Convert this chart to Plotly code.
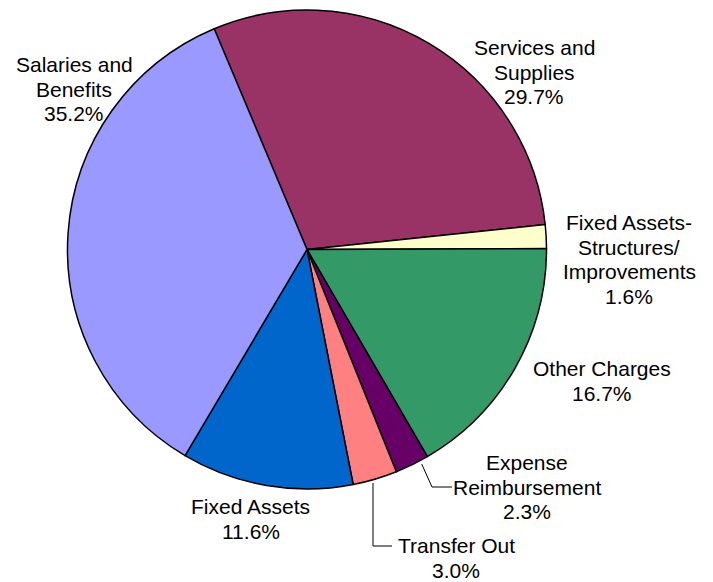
import plotly.graph_objects as go

# ---- data ----
categories = ["Services and Supplies", "Fixed Assets-Structures/Improvements",
              "Other Charges", "Expense Reimbursement", "Transfer Out",
              "Fixed Assets", "Salaries and Benefits"]
label_lines = [["Services and", "Supplies"],
               ["Fixed Assets-", "Structures/", "Improvements"],
               ["Other Charges"],
               ["Expense", "Reimbursement"],
               ["Transfer Out"],
               ["Fixed Assets"],
               ["Salaries and", "Benefits"]]
values = [29.7, 1.6, 16.7, 2.3, 3.0, 11.6, 35.2]
colors = ["#993366", "#FFFFCC", "#339966", "#660066", "#FF8080", "#0066CC", "#9999FF"]

W, H = 713, 582
CX, CY, R = 307, 249.5, 239.5

# label anchor: (x centre px, baseline px of first line)
label_pos = [(534, 55), (629, 230), (602, 376), (527, 470), (456, 553), (250.5, 514), (74, 72)]
LINE = 24.5
FS = 21

fig = go.Figure(go.Pie(
    labels=categories, values=values, sort=False, direction="clockwise",
    rotation=-22.8, textinfo="none", hoverinfo="label+value",
    marker=dict(colors=colors, line=dict(color="black", width=1.5)),
    domain=dict(x=[(CX - R) / W, (CX + R) / W], y=[(H - CY - R) / H, (H - CY + R) / H]),
    showlegend=False,
))

annotations = []
for lines, v, (x, y0) in zip(label_lines, values, label_pos):
    all_lines = lines + [f"{v:.1f}%"]
    for i, t in enumerate(all_lines):
        base = y0 + i * LINE
        annotations.append(dict(
            text=t, x=x / W, y=(H - (base - 0.3465 * FS)) / H,
            xref="paper", yref="paper", xanchor="center", yanchor="middle",
            showarrow=False, font=dict(family="Liberation Sans, Arial, sans-serif", size=FS, color="black"),
        ))

def px(x, y):
    return x / W, (H - y) / H

shapes = []
for pts in [[(421.7, 464), (432, 487), (452, 487)],
            [(373, 483), (373, 546), (392, 546)]]:
    path = ""
    for j, (x, y) in enumerate(pts):
        X, Y = px(x, y)
        path += ("M" if j == 0 else "L") + f"{X},{Y} "
    shapes.append(dict(type="path", path=path.strip(), xref="paper", yref="paper",
                       line=dict(color="black", width=1)))

fig.update_layout(
    width=W, height=H, autosize=False,
    margin=dict(l=0, r=0, t=0, b=0),
    paper_bgcolor="white", plot_bgcolor="white",
    annotations=annotations, shapes=shapes,
)

fig.write_html("out.html", config={"displayModeBar": False},
               post_script="document.body.style.margin='0';document.body.style.overflow='hidden';")
